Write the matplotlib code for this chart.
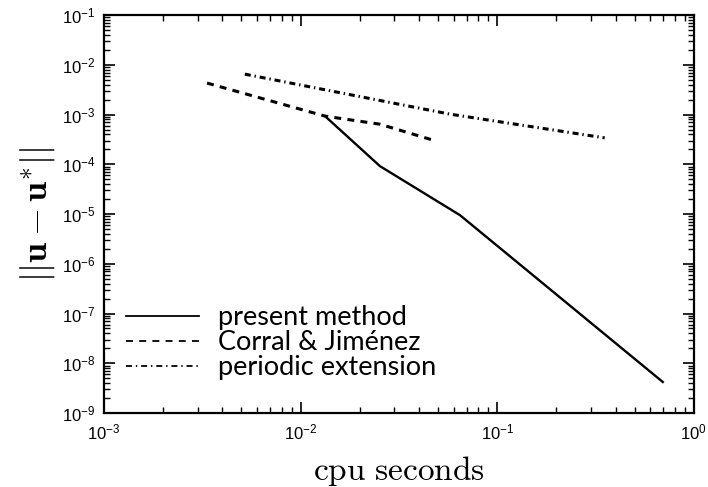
import matplotlib
matplotlib.use("Agg")
import matplotlib.pyplot as plt
from matplotlib.ticker import LogLocator, NullFormatter

# values (log-log)
present_t = [0.0133, 0.0253, 0.0646, 0.695]
present_err = [9.3e-4, 9.2e-5, 9.5e-6, 4.2e-9]

corral_t = [0.00334, 0.0133, 0.0253, 0.0493]
corral_err = [4.3e-3, 9.3e-4, 6.4e-4, 2.9e-4]

periodic_t = [0.0052, 0.0574, 0.352]
periodic_err = [6.5e-3, 1.02e-3, 3.4e-4]

labels = ["present method", "Corral & Jiménez", "periodic extension"]

plt.rcParams["mathtext.fontset"] = "custom"
plt.rcParams["mathtext.rm"] = "Liberation Sans"
plt.rcParams["mathtext.it"] = "Liberation Sans:italic"
plt.rcParams["mathtext.bf"] = "Liberation Sans:bold"
plt.rcParams["font.family"] = "Liberation Sans"
plt.rcParams["lines.scale_dashes"] = False

fig = plt.figure(figsize=(7.08, 4.87), dpi=100)
ax = fig.add_axes([0.147, 0.152, 0.833, 0.817])

ax.plot(present_t, present_err, color="black", lw=1.7, ls="-", label=labels[0])
ax.plot(corral_t, corral_err, color="black", lw=2.2, ls=(0, (5, 4.5)), label=labels[1])
ax.plot(periodic_t, periodic_err, color="black", lw=2.2,
        ls=(0, (4.3, 2.8, 1, 2.8)), label=labels[2])

ax.set_xscale("log")
ax.set_yscale("log")
ax.set_xlim(1e-3, 1)
ax.set_ylim(1e-9, 1e-1)

ax.xaxis.set_major_locator(LogLocator(base=10, numticks=10))
ax.yaxis.set_major_locator(LogLocator(base=10, numticks=20))
ax.xaxis.set_minor_locator(LogLocator(base=10, subs=range(2, 10), numticks=20))
ax.yaxis.set_minor_locator(LogLocator(base=10, subs=range(2, 10), numticks=40))
ax.xaxis.set_minor_formatter(NullFormatter())
ax.yaxis.set_minor_formatter(NullFormatter())

ax.tick_params(which="both", direction="in", top=True, right=True, labelsize=12)
ax.tick_params(which="major", length=8, width=1.2)
ax.tick_params(which="minor", length=4, width=1.0)
ax.tick_params(axis="x", which="major", pad=7)
ax.tick_params(axis="y", which="major", pad=6)
for s in ax.spines.values():
    s.set_linewidth(1.6)

ax.set_xlabel(r"$\mathrm{cpu\ seconds}$", fontsize=24, math_fontfamily="cm", labelpad=8)
ax.set_ylabel(r"$||\mathbf{u}-\mathbf{u}^{*}||$", fontsize=26, math_fontfamily="cm", labelpad=4)

leg = ax.legend(loc="lower left", bbox_to_anchor=(0.018, 0.055), frameon=False,
                prop={"family": "Lato", "size": 19.5}, handlelength=2.7,
                handletextpad=0.7, labelspacing=0.0, borderaxespad=0)
for h in leg.get_lines():
    h.set_linewidth(1.3)

fig.savefig("out.png", dpi=100)
